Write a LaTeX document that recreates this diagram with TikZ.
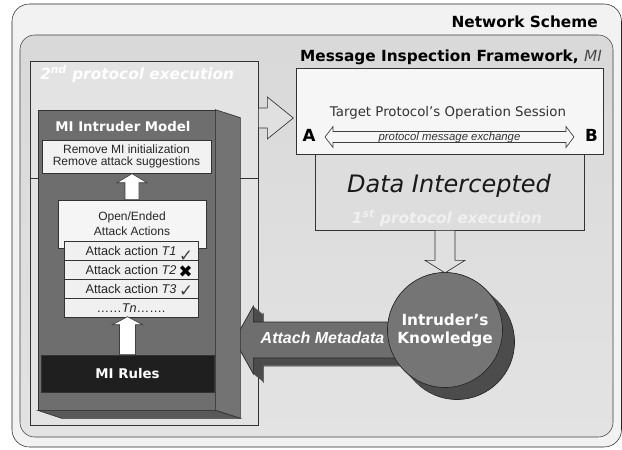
\documentclass[tikz,border=0pt]{standalone}
\usepackage{fontspec}
\setmainfont{DejaVu Sans}
\newfontfamily\arialfont{Liberation Sans}
\usepackage{tikz}
\usetikzlibrary{positioning}
\usetikzlibrary{calc}

\begin{document}
\begin{tikzpicture}[x=0.75pt, y=-0.75pt,
    caja/.style={draw=black!80, line width=0.5pt, inner sep=0pt},
    flecha/.style={draw=black!80, line width=0.5pt, fill=gray!24},
    blanca/.style={draw=black!75, line width=0.5pt, fill=white},
    arial/.style={font=\arialfont\fontsize{9}{9.5}\selectfont, text=black!85, align=center},
    tit/.style={font=\bfseries\fontsize{11.5}{13}\selectfont, inner sep=0pt, anchor=base}]
  \useasboundingbox (0,0) rectangle (622,450);

  % Marcos
  \draw[black!85, fill=gray!10, rounded corners=13pt] (12,4) rectangle (621.5,447);
  \draw[black!75, top color=gray!30, middle color=gray!5, bottom color=gray!22, rounded corners=11pt] (20,35) rectangle (613,437);
  \node[tit, anchor=base east] (net) at (598,27.5) {Network Scheme};

  % Segunda ejecucion
  \node[caja, fill=gray!22, minimum width=171pt, minimum height=273pt] (sec) at (144,243) {};
  \draw[black!80, line width=0.5pt] (sec.west |- 0,178) -- (sec.east |- 0,178);
  \node[tit, anchor=base west, text=white, font=\bfseries\itshape\fontsize{11.5}{13}\selectfont] (secl) at (40,79) {2\textsuperscript{nd} protocol execution};
  \draw[flecha] (sec.east |- 0,118) ++(0,-10) -- ++(9,0) -- ++(0,-11) -- ++(26,21) -- ++(-26,21) -- ++(0,-11) -- ++(-9,0) -- cycle;

  % Marco MI
  \node[caja, fill=gray!27, minimum width=201.75pt, minimum height=57pt] (dat) at (449.5,192) {};
  \node[caja, fill=gray!7, minimum width=230.25pt, minimum height=64.5pt] (mif) at (449.5,111) {};
  \node[tit] (mifl) at (451,61.5) {Message Inspection Framework, {\mdseries\itshape\color{black!70}MI}};
  \node[anchor=base, font=\fontsize{10}{12}\selectfont, text=black!80] (tps) at (448,116) {Target Protocol's Operation Session};
  \node[tit, font=\bfseries\fontsize{12.5}{14}\selectfont] (pa) at (309,141) {A};
  \node[tit, font=\bfseries\fontsize{12.5}{14}\selectfont] (pb) at (591.5,141) {B};
  \coordinate (da) at ($(pa.base)+(16,-4)$);
  \coordinate (db) at ($(pb.base)+(-17.5,-4)$);
  \draw[black!75, line width=0.5pt, fill=gray!7] (da) -- ++(8,-10.5) -- ++(0,5) -- ($(db)+(-8,-5.5)$) -- ++(0,-5) -- (db) -- ++(-8,10.5) -- ++(0,-5) -- ($(da)+(8,5.5)$) -- ++(0,5) -- cycle;
  \node[anchor=base, font=\arialfont\itshape\fontsize{8.5}{10}\selectfont, text=black!80] (pme) at ($(da)!0.5!(db)+(0,3)$) {protocol message exchange};
  \node[anchor=base, font=\itshape\fontsize{18}{20}\selectfont, text=black!90] (dil) at (449,192) {Data Intercepted};
  \node[tit, text=black!6, font=\bfseries\itshape\fontsize{11.5}{13}\selectfont] (fpe) at (447,223.5) {1\textsuperscript{st} protocol execution};

  % Modelo del intruso
  \node[caja, fill=black!57, minimum width=132.75pt, minimum height=225pt] (mod) at (126.5,260) {};
  \node[tit, text=white, font=\bfseries\fontsize{10}{12}\selectfont] (modl) at (123,131.5) {MI Intruder Model};
  \node[caja, arial, fill=gray!10, minimum width=126.75pt, minimum height=24.75pt] (rem) at (126.5,156.5) {Remove MI initialization\\Remove attack suggestions};
  \node[caja, arial, fill=gray!8, minimum width=111pt, minimum height=36pt, font=\arialfont\fontsize{9}{11.25}\selectfont] (opn) at (132,224) {Open/Ended\\Attack Actions};
  \foreach \i/\txt in {1/{Attack action \textit{T1}}, 2/{Attack action \textit{T2}}, 3/{Attack action \textit{T3}}, 4/{……\textit{Tn}…….}}
    \node[caja, arial, fill=gray!12, minimum width=100.5pt, minimum height=14.25pt, font=\arialfont\fontsize{9.5}{10}\selectfont] (r\i) at (131,232+19*\i) {\txt};
  \node[font=\fontsize{12.5}{12.5}\selectfont, text=black!75, inner sep=0pt] (ok1) at (186,256) {✓};
  \node[font=\fontsize{12.5}{12.5}\selectfont, text=black, inner sep=0pt] (no2) at (185.5,272) {✖};
  \node[font=\fontsize{12.5}{12.5}\selectfont, text=black!75, inner sep=0pt] (ok3) at (186,291.5) {✓};

  % Flechas blancas
  \draw[blanca] (opn.north) ++(-7,0) -- ++(0,-17) -- ++(-8,0) -- ++(15,-9) -- ++(15,9) -- ++(-8,0) -- ++(0,17) -- cycle;
  \node[caja, fill=black!88, minimum width=129.75pt, minimum height=27.75pt, font=\bfseries\fontsize{10}{12}\selectfont, text=white] (rul) at (127.5,373.5) {MI Rules};
  \draw[blanca] (rul.north) ++(-8,0) -- ++(0,-30) -- ++(-7,0) -- ++(15,-8) -- ++(15,8) -- ++(-7,0) -- ++(0,30) -- cycle;

  % Flecha de metadatos
  \coordinate (kc) at (445,330);
  \coordinate (amt) at ($(mod.east |- kc)+(19,10)$);
  \draw[black!85, line width=0.5pt] ($(amt)+(10,8)$) -- ++(19,-34) -- ++(0,16) -- ++(180,0) -- ++(0,36) -- ++(-180,0) -- ++(0,16) -- cycle;
  \foreach \t in {0.5,1,...,9.5}
    \fill[black!70] ($(amt)+(\t,0.8*\t)$) -- ++(19,-34) -- ++(0,16) -- ++(180,0) -- ++(0,36) -- ++(-180,0) -- ++(0,16) -- cycle;
  \draw[black!85, line width=0.5pt, fill=black!57] (amt) -- ++(19,-34) -- ++(0,16) -- ++(180,0) -- ++(0,36) -- ++(-180,0) -- ++(0,16) -- cycle;
  \node[anchor=base, font=\arialfont\bfseries\itshape\fontsize{12}{14}\selectfont, text=white] (aml) at (322.5,343.5) {Attach Metadata};

  % Lados del modelo
  \draw[black!80, line width=0.5pt, fill=black!55] (mod.north east) -- ++(25,8) -- ($(mod.south east)+(25,8)$) -- (mod.south east) -- cycle;
  \draw[black!80, line width=0.5pt, fill=black!65] (mod.south west) -- ++(24,8) -- ($(mod.south east)+(25,8)$) -- (mod.south east) -- cycle;

  % Conocimiento del intruso
  \draw[black!85, line width=0.5pt, fill=black!70] ($(kc)+(12,12)$) circle[radius=57.5];
  \foreach \t in {0,1,...,11}
    \fill[black!70] ($(kc)+(\t,\t)$) circle[radius=57.5];
  \node[circle, draw=black!85, line width=0.5pt, fill=black!54, minimum size=86.25pt, inner sep=0pt, align=center, text=white, font=\bfseries\fontsize{11.5}{13.5}\selectfont] (know) at (kc) {Intruder's\\Knowledge};
  \draw[flecha] (know.north |- dat.south) ++(-10,0) -- ++(0,30) -- ++(-10,0) -- ++(20,12.5) -- ++(20,-12.5) -- ++(-10,0) -- ++(0,-30) -- cycle;
\end{tikzpicture}
\end{document}
